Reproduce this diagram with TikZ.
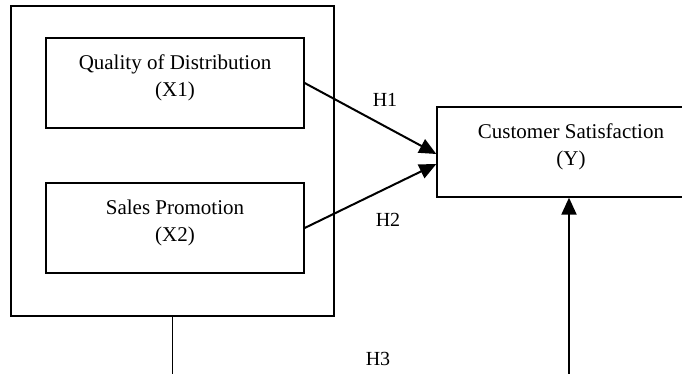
\documentclass[tikz,border=0pt]{standalone}
\usepackage{fontspec}
\setmainfont{Liberation Serif}
\usetikzlibrary{positioning,arrows.meta}

\begin{document}
\begin{tikzpicture}[x=1pt,y=-1pt,
    box/.style={draw=black,line width=1.3pt,minimum width=258pt,minimum height=90pt,align=center,inner sep=0pt,font=\fontsize{21}{27}\selectfont},
    link/.style={line width=2pt,-{Triangle[length=17pt,width=15pt]}},
    lbl/.style={font=\fontsize{20}{24}\selectfont}]
            \useasboundingbox (0,0) rectangle (682,374);
            \clip (0,0) rectangle (682,374);
            \node[box,minimum width=323pt,minimum height=310pt] (outer) at (172.5,161) {};
            \node[box] (qd) at (175,83) {Quality of Distribution\\(X1)\\[-12pt]};
            \node[box] (sp) at (175,228) {Sales Promotion\\(X2)\\[-12pt]};
            \node[box,minimum width=268pt] (cs) at (571,152) {Customer Satisfaction\\(Y)\\[-12pt]};
            \coordinate (bot) at (0,380);

            \draw[link] (qd.east) -- ([yshift=-2pt]cs.west);
            \draw[link] (sp.east) -- ([yshift=-12pt]cs.west);
            \draw[line width=1.3pt] (outer.south) -- (outer.south |- bot);
            \draw[link] ([xshift=-2pt]cs.south |- bot) -- ([xshift=-2pt]cs.south);

            \node[lbl] (h1) at (385,100) {H1};
            \node[lbl] (h2) at (388,220) {H2};
            \node[lbl] (h3) at (378,359) {H3};
        \end{tikzpicture}
\end{document}
